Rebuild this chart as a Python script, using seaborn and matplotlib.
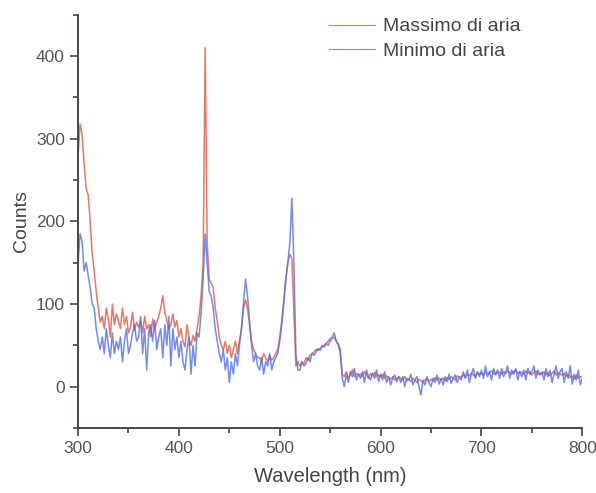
import numpy as np
import pandas as pd
import matplotlib
matplotlib.use("Agg")
import matplotlib.pyplot as plt
from matplotlib.ticker import MultipleLocator
import seaborn as sns

# wavelength grid, 2 nm step
wavelength = np.arange(300, 801, 2)

# "Massimo di aria" counts
massimo = [
    280, 318, 305, 270, 240, 232, 200, 160, 140, 115,
    95, 78, 85, 70, 95, 82, 60, 100, 75, 88,
    80, 70, 95, 75, 85, 65, 72, 90, 68, 78,
    72, 80, 65, 85, 70, 75, 60, 82, 70, 78,
    85, 95, 110, 90, 80, 70, 75, 88, 72, 80,
    60, 70, 55, 48, 75, 58, 50, 62, 55, 70,
    85, 110, 150, 410, 175, 130, 125, 120, 95, 80,
    60, 50, 45, 55, 40, 50, 35, 45, 55, 40,
    55, 70, 95, 105, 95, 75, 55, 45, 40, 35,
    35, 30, 40, 35, 30, 38, 32, 35, 40, 45,
    60, 80, 105, 130, 150, 160, 155, 90, 25, 30,
    25, 30, 28, 35, 32, 38, 40, 42, 45, 44,
    46, 48, 50, 52, 50, 55, 58, 60, 55, 50,
    40, 15, 12, 18, 10, 15, 20, 12, 16, 14,
    15, 12, 18, 14, 10, 16, 13, 17, 12, 14,
    12, 15, 10, 13, 11, 9, 12, 8, 10, 12,
    10, 8, 12, 7, 9, 6, 10, 8, 5, 9,
    7, 5, 8, 10, 6, 9, 7, 11, 8, 10,
    8, 10, 7, 11, 9, 12, 10, 8, 13, 11,
    12, 14, 11, 15, 13, 16, 14, 12, 17, 15,
    16, 14, 18, 15, 17, 19, 16, 14, 18, 17,
    15, 18, 16, 19, 17, 15, 18, 20, 16, 18,
    17, 15, 19, 16, 18, 14, 17, 19, 15, 16,
    15, 18, 14, 17, 13, 16, 19, 14, 17, 15,
    14, 16, 12, 15, 11, 13, 9, 14, 10, 12,
    12,
]

# "Minimo di aria" counts
minimo = [
    150, 185, 175, 140, 150, 135, 120, 100, 95, 70,
    55, 45, 60, 40, 70, 50, 35, 65, 40, 55,
    45, 60, 30, 55, 70, 40, 50, 65, 75, 55,
    60, 85, 40, 70, 20, 65, 75, 55, 80, 45,
    60, 70, 35, 75, 50, 85, 25, 70, 45, 60,
    35, 55, 30, 20, 45, 60, 15, 50, 25, 65,
    60, 90, 130, 185, 150, 115, 110, 95, 70, 55,
    40, 30, 45, 20, 35, 5, 30, 15, 40, 25,
    50, 70, 100, 130, 110, 80, 50, 30, 40, 25,
    20, 35, 15, 30, 25, 40, 20, 30, 35, 40,
    55, 75, 100, 130, 150, 175, 228, 150, 40, 20,
    20, 30, 25, 28, 35, 30, 40, 38, 42, 46,
    44, 50, 48, 52, 55, 58, 60, 65, 55, 52,
    45, 10, 0, 15, 5, 18, 12, 22, 8, 15,
    10, 18, 5, 20, 12, 8, 16, 10, 20, 6,
    15, 8, 18, 5, 12, 2, 10, 14, 6, 12,
    5, 12, 0, 10, 8, 15, 2, 8, 12, 0,
    -10, 8, 2, 12, 5, 0, 10, 5, 14, 3,
    10, 2, 12, 6, 15, 4, 10, 14, 5, 12,
    8, 18, 10, 20, 5, 15, 22, 10, 18, 12,
    20, 10, 25, 12, 18, 8, 22, 15, 20, 10,
    22, 12, 18, 25, 10, 20, 15, 22, 8, 18,
    12, 20, 8, 22, 15, 18, 25, 10, 20, 14,
    18, 8, 22, 12, 20, 5, 15, 25, 10, 18,
    22, 5, 18, 10, 25, 3, 15, 8, 20, 2,
    10,
]

df = pd.DataFrame({"wl": wavelength, "Massimo di aria": massimo, "Minimo di aria": minimo})
long_df = df.melt(id_vars="wl", var_name="serie", value_name="counts")

sns.set_style("ticks")
plt.rcParams['font.family'] = ['Liberation Sans', 'DejaVu Sans']

fig = plt.figure(figsize=(5.96, 4.93), dpi=100)
ax = fig.add_axes([0.131, 0.132, 0.846, 0.838])

sns.lineplot(data=long_df, x="wl", y="counts", hue="serie",
             palette={"Massimo di aria": "#e4553f", "Minimo di aria": "#4f6fe8"},
             linewidth=1.1, alpha=0.8, ax=ax)

ax.set_xlim(300, 800)
ax.set_ylim(-50, 450)
ax.xaxis.set_major_locator(MultipleLocator(100))
ax.xaxis.set_minor_locator(MultipleLocator(50))
ax.yaxis.set_major_locator(MultipleLocator(100))
ax.yaxis.set_minor_locator(MultipleLocator(50))
ax.tick_params(which="major", length=6, width=1.2, colors="#444444", labelsize=12.5,
               labelcolor="#555555")
ax.tick_params(which="minor", length=3.5, width=1.2, colors="#444444")
for s in ["left", "bottom"]:
    ax.spines[s].set_color("#3f4a45")
    ax.spines[s].set_linewidth(1.4)
sns.despine(ax=ax)

ax.set_xlabel("Wavelength (nm)", fontsize=14.5, color="#444444", labelpad=8)
ax.set_ylabel("Counts", fontsize=14, color="#444444", labelpad=4)

leg = ax.legend(loc="upper left", bbox_to_anchor=(0.462, 1.035), frameon=False,
                fontsize=14, handlelength=2.4, handletextpad=0.4, labelspacing=0.35)
for t in leg.get_texts():
    t.set_color("#444444")
for h in leg.get_lines():
    h.set_linewidth(0.8)

fig.savefig("out.png", dpi=100)
